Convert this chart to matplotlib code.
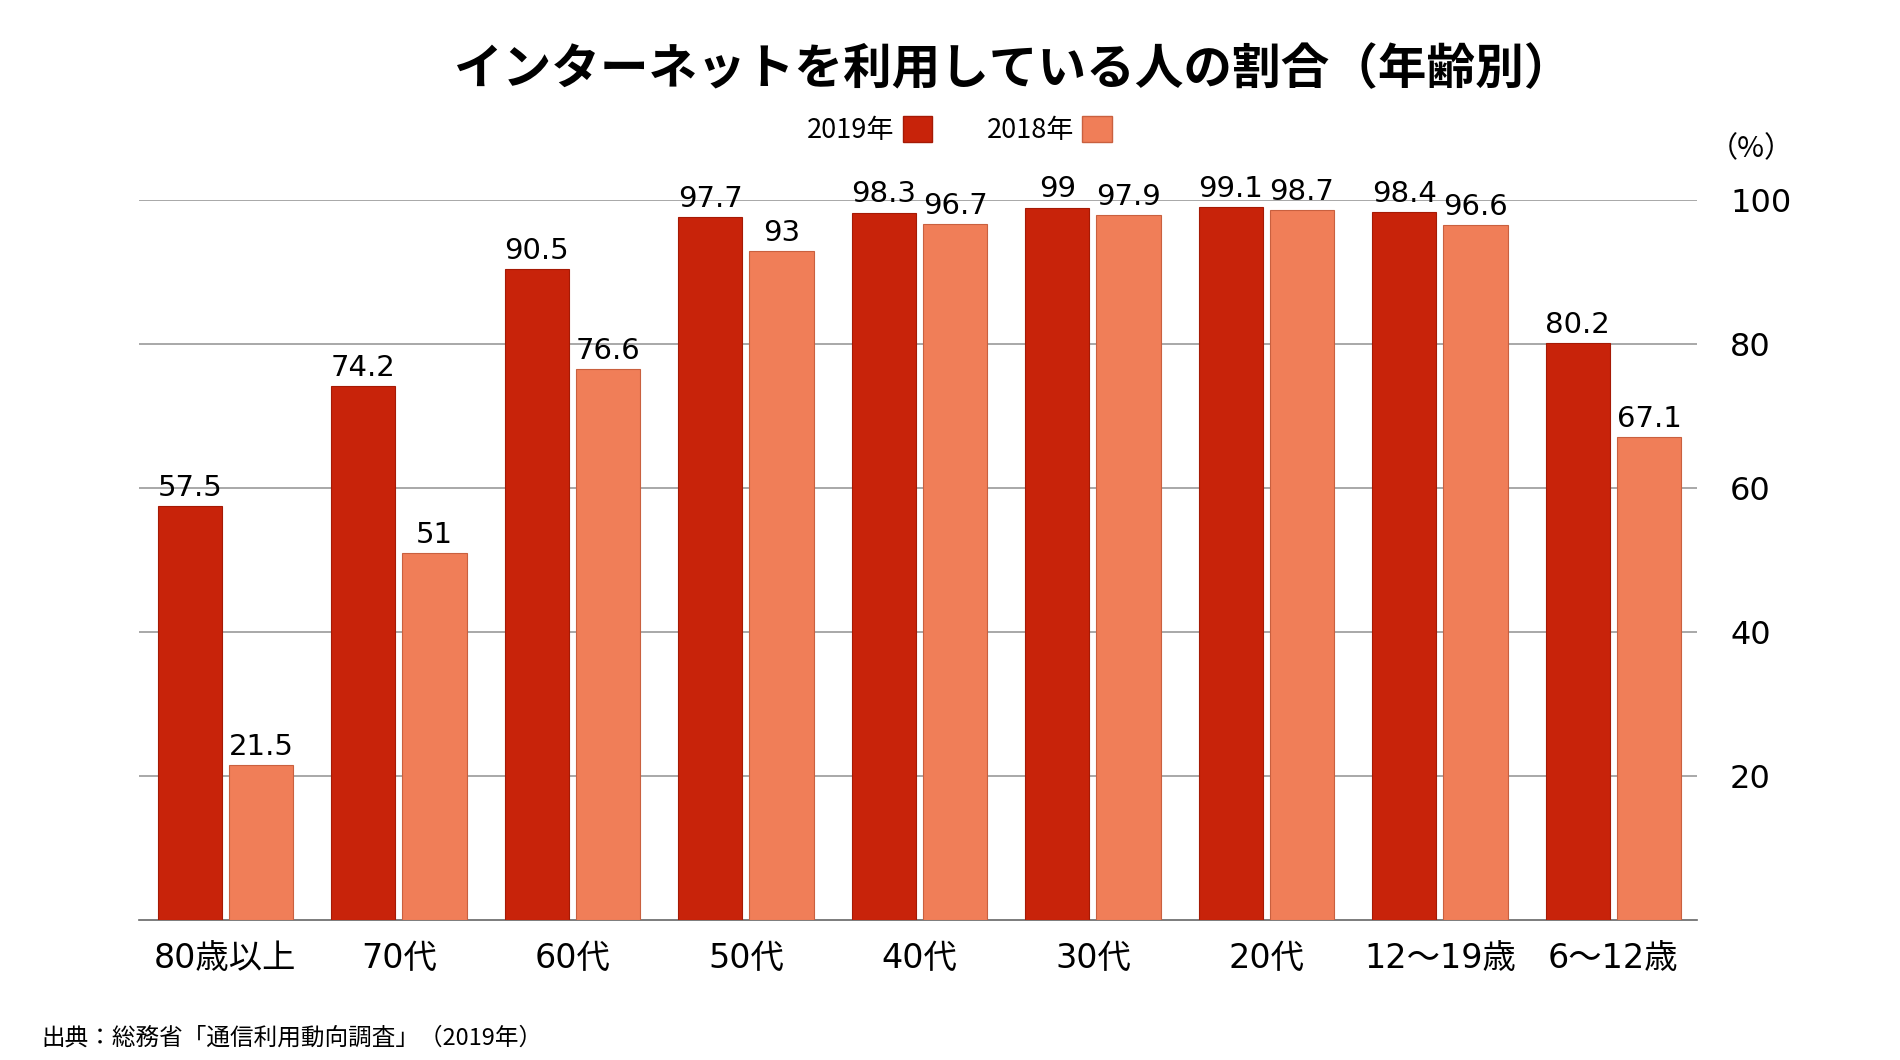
import numpy as np
import matplotlib
matplotlib.use("Agg")
import matplotlib.pyplot as plt
from matplotlib.patches import Patch

plt.rcParams["font.family"] = ["Noto Sans CJK JP", "DejaVu Sans"]
fonte_num = ["DejaVu Sans", "Noto Sans CJK JP"]

# =========================
# Dados
# =========================
categorias = ["80歳以上", "70代", "60代", "50代", "40代", "30代", "20代", "12〜19歳", "6〜12歳"]
valores_2019 = [57.5, 74.2, 90.5, 97.7, 98.3, 99, 99.1, 98.4, 80.2]
valores_2018 = [21.5, 51, 76.6, 93, 96.7, 97.9, 98.7, 96.6, 67.1]
rotulos_2019 = ["57.5", "74.2", "90.5", "97.7", "98.3", "99", "99.1", "98.4", "80.2"]
rotulos_2018 = ["21.5", "51", "76.6", "93", "96.7", "97.9", "98.7", "96.6", "67.1"]
yticks = [20, 40, 60, 80, 100]

cor_2019 = "#C8230A"
cor_2018 = "#F07E58"

fig = plt.figure(figsize=(19, 10.6), dpi=100)
ax = fig.add_axes([0.073, 0.132, 0.820, 0.679])

x = np.arange(len(categorias))
largura = 0.37
desloc = 0.205

b1 = ax.bar(x - desloc, valores_2019, largura, color=cor_2019,
            edgecolor="#A51A05", linewidth=0.8, zorder=3)
b2 = ax.bar(x + desloc, valores_2018, largura, color=cor_2018,
            edgecolor="#C9603F", linewidth=0.8, zorder=3)

for barra, txt in zip(b1, rotulos_2019):
    ax.annotate(txt, (barra.get_x() + barra.get_width() / 2, barra.get_height()),
                xytext=(0, 3), textcoords="offset points", family=fonte_num,
                ha="center", va="bottom", fontsize=21, zorder=4)
for barra, txt in zip(b2, rotulos_2018):
    ax.annotate(txt, (barra.get_x() + barra.get_width() / 2, barra.get_height()),
                xytext=(0, 3), textcoords="offset points", family=fonte_num,
                ha="center", va="bottom", fontsize=21, zorder=4)

ax.set_xlim(-0.5, 8.48)
ax.set_ylim(0, 100)
ax.set_yticks(yticks)
ax.set_yticklabels([str(v) for v in yticks], fontsize=23, family=fonte_num)
ax.yaxis.tick_right()
ax.tick_params(axis="y", length=0, pad=24)
ax.set_xticks(x)
ax.set_xticklabels(categorias, fontsize=24, family=fonte_num)
ax.tick_params(axis="x", length=0, pad=16)
ax.grid(axis="y", color="#999999", linewidth=1.2, zorder=0)

for lado in ["top", "left", "right"]:
    ax.spines[lado].set_visible(False)
ax.spines["bottom"].set_color("#666666")
ax.spines["bottom"].set_linewidth(1.2)

fig.text(0.922, 0.859, "（%）", ha="center", va="center", fontsize=21)

fig.text(0.533, 0.934, "インターネットを利用している人の割合（年齢別）",
         ha="center", va="center", fontsize=35, fontweight="bold")

handles = [Patch(facecolor=cor_2019, edgecolor="#A51A05", label="2019年"),
           Patch(facecolor=cor_2018, edgecolor="#C9603F", label="2018年")]
fig.legend(handles=handles, loc="center", bbox_to_anchor=(0.505, 0.877),
           ncol=2, frameon=False, fontsize=19.5, markerfirst=False,
           handlelength=1.1, handleheight=1.1, handletextpad=0.3, columnspacing=2.0)

fig.text(0.022, 0.021, "出典：総務省「通信利用動向調査」（2019年）",
         ha="left", va="center", fontsize=17)

fig.savefig("out.png", dpi=100, facecolor="white")
